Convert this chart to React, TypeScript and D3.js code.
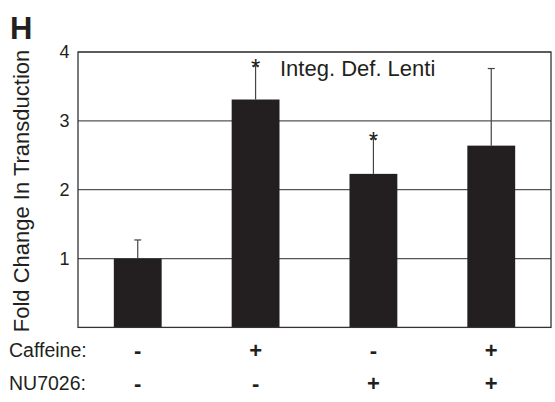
import React from "react";
import * as d3 from "d3";

const categories = ["ctrl", "caf", "nu", "caf+nu"];
const caffeine = ["-", "+", "-", "+"];
const nu7026 = ["-", "-", "+", "+"];
const means = [1.0, 3.31, 2.23, 2.64];
const errors = [0.27, 0.49, 0.51, 1.12];
const significant = [false, true, true, false];
const yTicks = [1, 2, 3, 4];

const W = 555;
const H = 402;
const left = 78;
const right = 551;
const top = 52;
const bottom = 327.4;
const FONT = "Liberation Sans, Arial, Helvetica, sans-serif";

export default function App() {
  const x = d3
    .scaleBand<string>()
    .domain(categories)
    .range([left, right])
    .paddingInner(0.594)
    .paddingOuter(0.304);
  const y = d3.scaleLinear().domain([0, 4]).range([bottom, top]);
  const bw = x.bandwidth();
  const cx = (c: string) => (x(c) as number) + bw / 2;

  return (
    <svg
      width={W}
      height={H}
      style={{ position: "absolute", left: 0, top: 0, background: "#fff" }}
      fontFamily={FONT}
    >
      {yTicks.map((t) => (
        <line key={"g" + t} x1={left} x2={right} y1={y(t)} y2={y(t)} stroke="#555" strokeWidth={1.2} />
      ))}
      {categories.map((c, i) => (
        <rect key={"b" + c} x={x(c)} y={y(means[i])} width={bw} height={y(0) - y(means[i])} fill="#231f20" />
      ))}
      {categories.map((c, i) => {
        const yt = y(means[i] + errors[i]);
        return (
          <g key={"e" + c} stroke="#444" strokeWidth={1.2}>
            <line x1={cx(c)} x2={cx(c)} y1={y(means[i])} y2={yt} />
            <line x1={cx(c) - 3.5} x2={cx(c) + 3.5} y1={yt} y2={yt} />
          </g>
        );
      })}
      {categories.map((c, i) =>
        significant[i] ? (
          <text
            key={"s" + c}
            x={cx(c)}
            y={y(means[i] + errors[i]) + 10}
            textAnchor="middle"
            fontSize={24}
            fill="#231f20"
          >
            *
          </text>
        ) : null
      )}
      <rect x={left} y={top} width={right - left} height={bottom - top} fill="none" stroke="#333" strokeWidth={1.3} />
      {yTicks.map((t) => (
        <text key={"t" + t} x={69.5} y={y(t)} dy="0.35em" textAnchor="end" fontSize={18} fill="#231f20">
          {t}
        </text>
      ))}
      <text transform={`translate(29,191) rotate(-90)`} textAnchor="middle" fontSize={22} fill="#231f20">
        Fold Change In Transduction
      </text>
      <text x={10} y={39} fontSize={31} fontWeight="bold" fill="#231f20">
        H
      </text>
      <text x={280} y={76} fontSize={22} fill="#231f20">
        Integ. Def. Lenti
      </text>
      <text x={9} y={356.5} fontSize={19.5} fill="#231f20">
        Caffeine:
      </text>
      <text x={9} y={390} fontSize={19.5} fill="#231f20">
        NU7026:
      </text>
      {categories.map((c, i) => (
        <text key={"c" + c} x={cx(c)} y={357.5} textAnchor="middle" fontSize={22} fontWeight="bold" fill="#231f20">
          {caffeine[i]}
        </text>
      ))}
      {categories.map((c, i) => (
        <text key={"n" + c} x={cx(c)} y={391} textAnchor="middle" fontSize={22} fontWeight="bold" fill="#231f20">
          {nu7026[i]}
        </text>
      ))}
    </svg>
  );
}
